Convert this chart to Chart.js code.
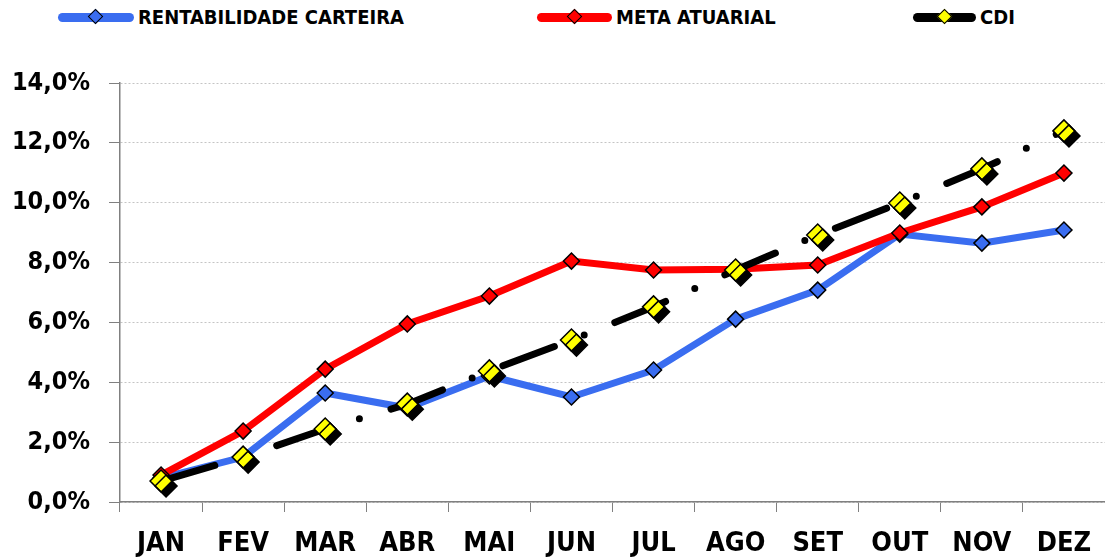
<!DOCTYPE html>
<html>
<head>
<meta charset="utf-8">
<script src="https://cdn.jsdelivr.net/npm/chart.js@4"></script>
<style>
  html, body { margin: 0; padding: 0; background: #fff; }
  #wrap { position: relative; width: 1105px; height: 559px; }
  #legend { position: absolute; top: 0; left: 0; width: 1105px; height: 36px;
    font-family: 'Liberation Sans Narrow', 'DejaVu Sans Condensed', sans-serif; font-weight: bold; font-size: 20px; }
  .item { position: absolute; top: 5px; height: 24px; display: flex; align-items: center; }
  .sym { position: relative; height: 24px; }
  .bar { position: absolute; top: 8px; height: 9px; border-radius: 5px; }
  .dia { position: absolute; top: 6px; width: 9px; height: 9px; border: 1.5px solid #000; transform: rotate(45deg); }
  canvas { position: absolute; top: 0; left: 0; }
</style>
</head>
<body>
<div id="wrap">
  <div id="legend"></div>
  <canvas id="chart" width="1105" height="559"></canvas>
</div>
<script>
const meses = ['JAN', 'FEV', 'MAR', 'ABR', 'MAI', 'JUN', 'JUL', 'AGO', 'SET', 'OUT', 'NOV', 'DEZ'];
const rentabilidade = [0.80, 1.50, 3.64, 3.14, 4.21, 3.51, 4.41, 6.11, 7.08, 8.95, 8.65, 9.09];
const metaAtuarial = [0.90, 2.37, 4.44, 5.95, 6.88, 8.05, 7.75, 7.78, 7.92, 8.99, 9.86, 10.99];
const cdi = [0.70, 1.50, 2.44, 3.27, 4.38, 5.41, 6.52, 7.75, 8.92, 9.99, 11.13, 12.40];
const series = ['RENTABILIDADE CARTEIRA', 'META ATUARIAL', 'CDI'];
const yMax = 14;
const yStep = 2;

const FONT = "'Liberation Sans Narrow', 'DejaVu Sans Condensed', sans-serif";

// legend drawn as html: thick line with the marker in the middle
const legendItems = [
  { label: series[0], line: '#3a6df0', fill: '#3a6df0', left: 58, width: 76 },
  { label: series[1], line: '#ff0000', fill: '#ff0000', left: 537, width: 75 },
  { label: series[2], line: '#000000', fill: '#ffff00', left: 913, width: 63 }
];
const legend = document.getElementById('legend');
legendItems.forEach(it => {
  const div = document.createElement('div');
  div.className = 'item';
  div.style.left = it.left + 'px';
  div.innerHTML = `
    <div class="sym" style="width:${it.width + 4}px">
      <div class="bar" style="left:0;width:${it.width}px;background:${it.line}"></div>
      <div class="dia" style="left:${it.width / 2 - 6}px;background:${it.fill}"></div>
    </div>
    <span>${it.label}</span>`;
  legend.appendChild(div);
});

// black drop shadow under the CDI markers
const markerShadow = {
  id: 'markerShadow',
  beforeDatasetDraw(chart, args) {
    if (chart.data.datasets[args.index].shadow) {
      const ctx = chart.ctx;
      ctx.save();
      ctx.shadowColor = '#000';
      ctx.shadowOffsetX = 5;
      ctx.shadowOffsetY = 5;
      ctx.shadowBlur = 0;
    }
  },
  afterDatasetDraw(chart, args) {
    if (chart.data.datasets[args.index].shadow) chart.ctx.restore();
  }
};

const ctx = document.getElementById('chart').getContext('2d');
new Chart(ctx, {
  type: 'line',
  data: {
    labels: meses,
    datasets: [
      {
        label: series[0], data: rentabilidade, order: 4,
        borderColor: '#3a6df0', borderWidth: 7, pointStyle: 'rectRot', pointRadius: 8,
        pointBackgroundColor: '#3a6df0', pointBorderColor: '#000', pointBorderWidth: 1.5
      },
      {
        label: series[1], data: metaAtuarial, order: 3,
        borderColor: '#ff0000', borderWidth: 7, pointStyle: 'rectRot', pointRadius: 8,
        pointBackgroundColor: '#ff0000', pointBorderColor: '#000', pointBorderWidth: 1.5
      },
      {
        // dash-dot line, markers drawn by the next dataset
        label: series[2], data: cdi, order: 2,
        borderColor: '#000', borderWidth: 7, borderDash: [55, 32, 0, 33], borderDashOffset: -1,
        borderCapStyle: 'round', pointRadius: 0
      },
      {
        label: series[2], data: cdi, order: 1, shadow: true, showLine: false,
        pointStyle: 'rectRot', pointRadius: 11,
        pointBackgroundColor: '#ffff00', pointBorderColor: '#000', pointBorderWidth: 1.5
      }
    ]
  },
  options: {
    responsive: false,
    animation: false,
    layout: { autoPadding: false, padding: { top: 83, right: 0, left: 0, bottom: 0 } },
    plugins: { legend: { display: false }, tooltip: { enabled: false } },
    elements: { line: { tension: 0 } },
    scales: {
      x: {
        offset: true,
        grid: { offset: true, drawOnChartArea: false, drawTicks: true, tickLength: 10, color: '#808080' },
        border: { color: '#808080', width: 1.5 },
        ticks: { color: '#000', padding: 16, font: { family: FONT, size: 27, weight: 'bold' } },
        afterFit(scale) {
          scale.height = 57;
          scale.paddingLeft = 0;
          scale.paddingRight = 0;
        }
      },
      y: {
        min: 0, max: yMax,
        grid: { color: '#c4c4c4', lineWidth: 1, tickLength: 11, tickColor: '#808080' },
        border: { color: '#808080', width: 1.5, dash: [2, 2] },
        ticks: {
          stepSize: yStep, color: '#000', padding: 19,
          font: { family: FONT, size: 25, weight: 'bold' },
          callback: v => v.toFixed(1).replace('.', ',') + '%'
        },
        afterFit(scale) { scale.width = 120; }
      }
    }
  },
  plugins: [markerShadow]
});
</script>
</body>
</html>
